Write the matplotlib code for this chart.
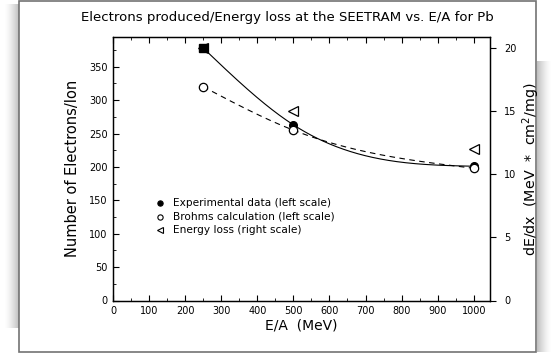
import numpy as np
import matplotlib
matplotlib.use('Agg')
import matplotlib.pyplot as plt
from matplotlib.patches import Rectangle
from matplotlib.ticker import MultipleLocator

plt.rcParams['font.family'] = ['DejaVu Sans']

# 数据
energy = [250, 500, 1000]                 # E/A (MeV)
electrons_exp = [378, 263, 201]           # 实验数据 (左轴)
electrons_brohms = [320, 255, 198]        # Brohms 计算 (左轴)
dedx = [20.0, 15.0, 12.0]                 # 能量损失 (右轴)


# 自然三次样条 (平滑曲线)
def natural_spline(x, y, xs):
    x = np.asarray(x, float)
    y = np.asarray(y, float)
    n = len(x)
    h = np.diff(x)
    A = np.zeros((n, n))
    r = np.zeros(n)
    A[0, 0] = A[-1, -1] = 1
    for i in range(1, n - 1):
        A[i, i - 1] = h[i - 1]
        A[i, i] = 2 * (h[i - 1] + h[i])
        A[i, i + 1] = h[i]
        r[i] = 6 * ((y[i + 1] - y[i]) / h[i] - (y[i] - y[i - 1]) / h[i - 1])
    M = np.linalg.solve(A, r)
    k = np.clip(np.searchsorted(x, xs) - 1, 0, n - 2)
    a, b = x[k], x[k + 1]
    hh = b - a
    return (M[k] * (b - xs) ** 3 / (6 * hh) + M[k + 1] * (xs - a) ** 3 / (6 * hh)
            + (y[k] / hh - M[k] * hh / 6) * (b - xs) + (y[k + 1] / hh - M[k + 1] * hh / 6) * (xs - a))


fig = plt.figure(figsize=(5.56, 3.56), dpi=100)
fig.patch.set_facecolor('white')

# 纸张边框和阴影
for i in range(14):
    a = 0.35 * ((i + 1) / 14) ** 1.5
    fig.patches.append(Rectangle(((5 + i) / 556, 0.08), 1 / 556, 0.91, zorder=-10,
                                 transform=fig.transFigure, color='0.3', alpha=a, lw=0))
    fig.patches.append(Rectangle(((550 - i) / 556, 0.01), 1 / 556, 0.82, zorder=-10,
                                 transform=fig.transFigure, color='0.3', alpha=a, lw=0))
fig.patches.append(Rectangle((19 / 556, 1 - 352 / 356), (536 - 19) / 556, (351) / 356,
                             transform=fig.transFigure, facecolor='white', zorder=-5,
                             edgecolor='0.45', lw=1.2))

ax = fig.add_axes([113 / 556, 1 - 300.5 / 356, 377 / 556, 263.5 / 356])
ax.set_facecolor('none')
ax2 = ax.twinx()

ax.set_xlim(0, 1045)
ax.set_ylim(0, 394.5)
ax2.set_ylim(0, 20.88)

# 平滑曲线
xs = np.linspace(energy[0], energy[-1], 300)
ax.plot(xs, natural_spline(energy, electrons_exp, xs), color='black', lw=0.8)
ax.plot(xs, natural_spline(energy, electrons_brohms, xs), color='black', lw=0.8, ls=(0, (5, 4)))

# 数据点
ax.plot(energy[0], electrons_exp[0], 's', color='black', ms=6)
ax.plot(energy[1:], electrons_exp[1:], 'o', color='black', ms=5.5)
ax.plot(energy, electrons_brohms, 'o', mfc='white', mec='black', ms=6, mew=0.9)
ax2.plot(energy, dedx, '<', mfc='none', mec='black', ms=7, mew=0.9)
ax.set_zorder(ax2.get_zorder() + 1)

# 刻度
ax.xaxis.set_major_locator(MultipleLocator(100))
ax.xaxis.set_minor_locator(MultipleLocator(50))
ax.yaxis.set_major_locator(MultipleLocator(50))
ax.yaxis.set_minor_locator(MultipleLocator(25))
ax.tick_params(which='both', direction='in', top=True, labelsize=7, pad=4)
ax.tick_params(which='major', length=4)
ax.tick_params(which='minor', length=2.5)
ax2.yaxis.set_major_locator(MultipleLocator(5))
ax2.tick_params(direction='out', length=4, labelsize=7, pad=6)

ax.set_xlabel('E/A  (MeV)', fontsize=10, labelpad=2)
ax.set_ylabel('Number of Electrons/Ion', fontsize=10.5, labelpad=6)
ax2.set_ylabel('dE/dx  (MeV  *  cm$^2$/mg)', fontsize=10.3, labelpad=3)

for a in (ax, ax2):
    for s in a.spines.values():
        s.set_linewidth(0.9)

# 图例
leg_items = [
    ('o', 'black', 'Experimental data (left scale)'),
    ('o', 'white', 'Brohms calculation (left scale)'),
    ('<', 'white', 'Energy loss (right scale)'),
]
for i, (m, fc, txt) in enumerate(leg_items):
    yy = 0.37 - i * 0.052
    ax.plot(0.125, yy, m, mfc=fc, mec='black', ms=3.8, mew=0.8, transform=ax.transAxes)
    ax.text(0.158, yy, txt, fontsize=7.6, va='center', transform=ax.transAxes)

fig.text(287 / 556, 1 - 18 / 356, 'Electrons produced/Energy loss at the SEETRAM vs. E/A for Pb',
         ha='center', va='center', fontsize=9.5)

fig.savefig('out.png', dpi=100, facecolor='white')
